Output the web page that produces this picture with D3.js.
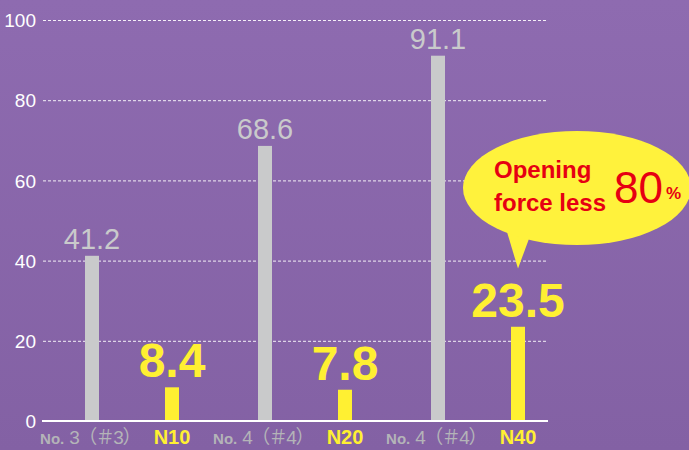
<!DOCTYPE html>
<html><head><meta charset="utf-8">
<script src="https://cdn.jsdelivr.net/npm/d3@7"></script>
<style>html,body{margin:0;padding:0;overflow:hidden;background:#8964a9}</style>
</head><body>
<script>
const groups = ["g1","g2","g3"];
const conventionalLabels = ["3（＃3）","4（＃4）","4（＃4）"];
const newLabels = ["N10","N20","N40"];
const conventionalValues = [41.2, 68.6, 91.1];
const newValues = [8.4, 7.8, 23.5];
const yTicks = [0,20,40,60,80,100];

const W=689,H=450;
const svg=d3.select("body").append("svg").attr("width",W).attr("height",H);
const defs=svg.append("defs");
const grad=defs.append("linearGradient").attr("id","bg").attr("x1",0).attr("y1",0).attr("x2",0).attr("y2",1);
grad.append("stop").attr("offset","0%").attr("stop-color","#8e6bb0");
grad.append("stop").attr("offset","100%").attr("stop-color","#8361a4");
svg.append("rect").attr("width",W).attr("height",H).attr("fill","url(#bg)");

const y=d3.scaleLinear().domain([0,100]).range([421,20]);
const xg=d3.scaleBand().domain(groups).range([45.5,564.5]).padding(0);
const xs=d3.scalePoint().domain(["conv","new"]).range([46.5,126.5]);
const barW=14;

// grid
const grid=svg.append("g");
grid.selectAll("line").data(yTicks.filter(d=>d>0)).join("line")
 .attr("x1",43).attr("x2",548).attr("y1",d=>y(d)+0.5).attr("y2",d=>y(d)+0.5)
 .attr("stroke","#fff").attr("stroke-width",1).attr("stroke-dasharray","3,2").attr("opacity",0.9);

// y axis labels
const yAxis=d3.axisLeft(y).tickValues(yTicks).tickSize(0).tickPadding(0);
const ya=svg.append("g").attr("transform","translate(36,0)").call(yAxis);
ya.select(".domain").remove();
ya.selectAll("text").attr("fill","#fff").attr("font-family","Liberation Sans, Arial, sans-serif")
 .attr("font-size",19).attr("dy","0.35em").attr("x",0);

// bars
const gsel=svg.selectAll(".grp").data(groups).join("g").attr("class","grp")
 .attr("transform",d=>`translate(${xg(d)},0)`);
gsel.append("rect").attr("x",xs("conv")-barW/2).attr("width",barW)
 .attr("y",(d,i)=>y(conventionalValues[i])).attr("height",(d,i)=>y(0)-y(conventionalValues[i])).attr("fill","#c9cacb");
gsel.append("rect").attr("x",xs("new")-barW/2).attr("width",barW)
 .attr("y",(d,i)=>y(newValues[i])).attr("height",(d,i)=>y(0)-y(newValues[i])).attr("fill","#fff032");

// value labels
gsel.append("text").attr("x",xs("conv")).attr("y",(d,i)=>y(conventionalValues[i])-7)
 .attr("text-anchor","middle").attr("fill","#c9cacb").attr("font-family","Liberation Sans, Arial, sans-serif")
 .attr("font-size",29).text((d,i)=>conventionalValues[i].toFixed(1));
gsel.append("text").attr("x",xs("new")).attr("y",(d,i)=>y(newValues[i])-10)
 .attr("text-anchor","middle").attr("fill","#fff032").attr("font-family","Liberation Sans, Arial, sans-serif")
 .attr("font-weight","bold").attr("font-size",48).text((d,i)=>newValues[i].toFixed(1));

// axis line
svg.append("line").attr("x1",42).attr("x2",548).attr("y1",y(0)).attr("y2",y(0)).attr("stroke","#fff").attr("stroke-width",2);

// category labels
const ct=gsel.append("text").attr("x",xs("conv")-2).attr("y",444).attr("text-anchor","middle")
 .attr("fill","#b4b4b8").attr("font-family","Liberation Sans, Arial, sans-serif");
ct.append("tspan").attr("font-weight","bold").attr("font-size",15).text("No.");
ct.append("tspan").attr("font-size",19).attr("dx",5).attr("letter-spacing",-1.5)
 .attr("font-family","Liberation Sans, Noto Sans CJK JP, sans-serif").text((d,i)=>conventionalLabels[i]);
gsel.append("text").attr("x",xs("new")).attr("y",444).attr("text-anchor","middle")
 .attr("fill","#fff032").attr("font-family","Liberation Sans, Arial, sans-serif").attr("font-weight","bold").attr("font-size",20)
 .text((d,i)=>newLabels[i]);

// speech bubble
const tipX=xg("g3")+xs("new");
const bub=svg.append("g");
bub.append("path").attr("d",`M${tipX-11},232 L${tipX},${y(38)} L${tipX+12},236 Z`).attr("fill","#fff23c");
bub.append("ellipse").attr("cx",577).attr("cy",188).attr("rx",114).attr("ry",57).attr("fill","#fff23c");
const red="#e60012";
bub.append("text").attr("x",494).attr("y",178).attr("fill",red).attr("font-family","Liberation Sans, Arial, sans-serif")
 .attr("font-weight","bold").attr("font-size",24).text("Opening");
bub.append("text").attr("x",494).attr("y",211).attr("fill",red).attr("font-family","Liberation Sans, Arial, sans-serif")
 .attr("font-weight","bold").attr("font-size",24).text("force less");
bub.append("text").attr("x",614).attr("y",203).attr("fill",red).attr("font-family","Liberation Sans, Arial, sans-serif")
 .attr("font-size",44).text("80");
bub.append("text").attr("x",666).attr("y",199).attr("fill",red).attr("font-family","Liberation Sans, Arial, sans-serif")
 .attr("font-weight","bold").attr("font-size",17).text("%");
</script>
</body></html>
